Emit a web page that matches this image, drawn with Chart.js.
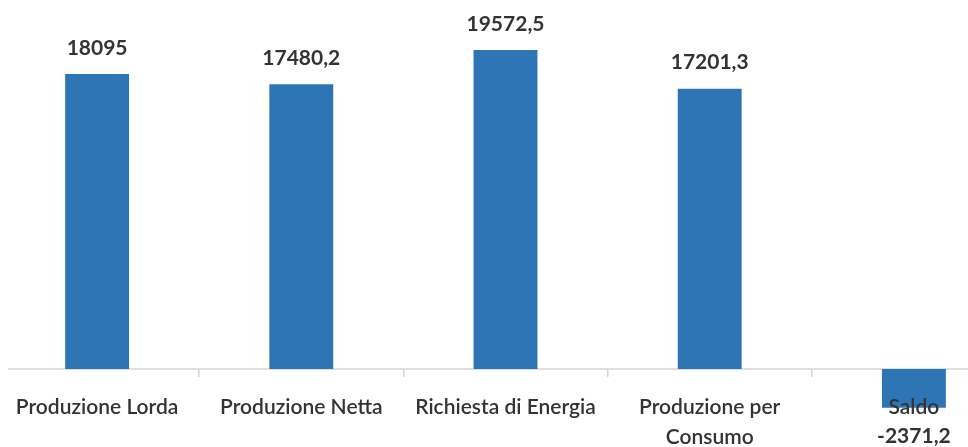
<!DOCTYPE html>
<html>
<head>
<meta charset="utf-8">
<script src="https://cdn.jsdelivr.net/npm/chart.js@4/dist/chart.umd.min.js"></script>
<style>
  html, body { margin: 0; padding: 0; background: #ffffff; overflow: hidden; }
  body { width: 968px; height: 447px; position: relative; }
  #wrap { position: absolute; left: -5px; top: 0; width: 1021px; height: 447px; }
</style>
</head>
<body>
<div id="wrap"><canvas id="chart"></canvas></div>
<script>
// Bilancio energetico (GWh)
const categories = ['Produzione Lorda', 'Produzione Netta', 'Richiesta di Energia', ['Produzione per', 'Consumo'], 'Saldo'];
const values = [18095, 17480.2, 19572.5, 17201.3, -2371.2];

const BAR_BLUE = '#2e75b6';
const TEXT_DARK = '#333333';
const AXIS_GREY = '#d4d4d4';

function fmt(v) {
  return String(v).replace('.', ',');
}

// Value labels above positive bars and below negative ones
const valueLabels = {
  id: 'valueLabels',
  afterDatasetsDraw(chart) {
    const ctx = chart.ctx;
    const meta = chart.getDatasetMeta(0);
    ctx.save();
    ctx.font = 'bold 21px Lato, "Noto Sans", sans-serif';
    ctx.fillStyle = TEXT_DARK;
    ctx.textAlign = 'center';
    ctx.textBaseline = 'middle';
    meta.data.forEach((bar, i) => {
      const v = values[i];
      const y = v >= 0 ? bar.y - 26 : bar.y + 29;
      ctx.fillText(fmt(v), bar.x, y);
    });
    ctx.restore();
  }
};

// Horizontal baseline at zero
const baseline = {
  id: 'baseline',
  beforeDatasetsDraw(chart) {
    const { ctx, chartArea, scales } = chart;
    const y0 = scales.y.getPixelForValue(0);
    ctx.save();
    ctx.strokeStyle = AXIS_GREY;
    ctx.lineWidth = 1.5;
    ctx.beginPath();
    ctx.moveTo(chartArea.left + 13, y0);
    ctx.lineTo(chartArea.right, y0);
    ctx.stroke();
    ctx.restore();
  }
};

new Chart(document.getElementById('chart'), {
  type: 'bar',
  data: {
    labels: categories,
    datasets: [{
      data: values,
      backgroundColor: BAR_BLUE,
      borderWidth: 0,
      categoryPercentage: 1,
      barPercentage: 0.313
    }]
  },
  options: {
    responsive: true,
    maintainAspectRatio: false,
    animation: false,
    layout: { padding: 0 },
    plugins: {
      legend: { display: false },
      tooltip: { enabled: false }
    },
    scales: {
      x: {
        position: { y: 0 },
        offset: true,
        border: { display: false },
        grid: {
          drawOnChartArea: false,
          drawTicks: true,
          tickLength: 8,
          color: AXIS_GREY,
          lineWidth: 1.5,
          offset: true
        },
        ticks: {
          z: 1,
          color: TEXT_DARK,
          padding: 15,
          maxRotation: 0,
          autoSkip: false,
          font: { family: 'Lato, "Noto Sans", sans-serif', size: 21, weight: '600', lineHeight: 1.45 }
        }
      },
      y: {
        display: false,
        min: -4786,
        max: 22643
      }
    }
  },
  plugins: [baseline, valueLabels]
});
</script>
</body>
</html>
